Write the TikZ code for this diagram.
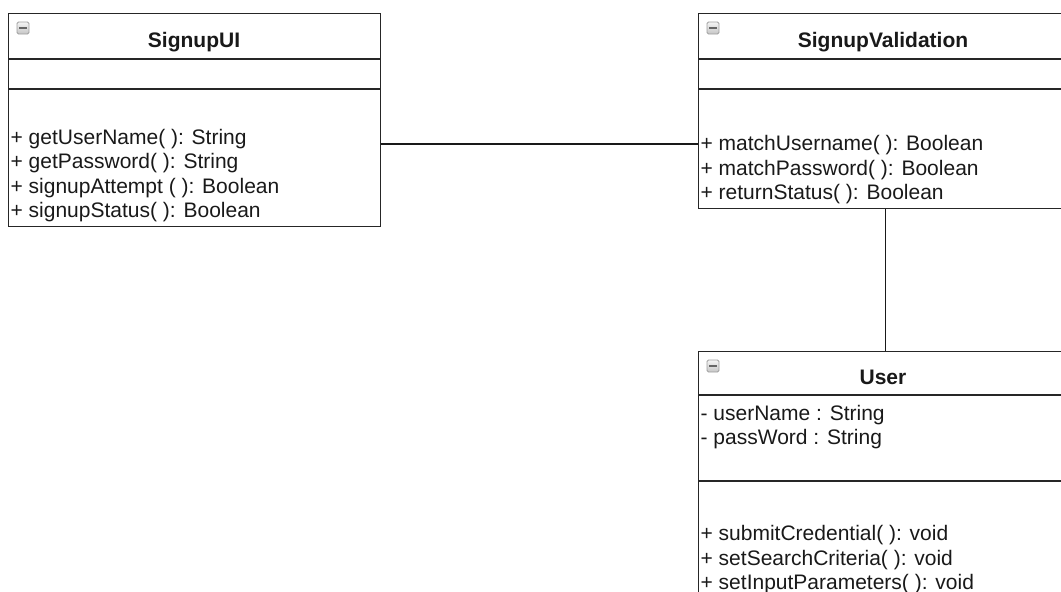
\documentclass[tikz,border=0pt]{standalone}
\usepackage{fontspec}
\setmainfont{Liberation Sans}
\begin{document}
\begin{tikzpicture}[x=1pt,y=-1pt,
  line width=1.3pt,
  classbox/.style={draw=black!85, line width=1.3pt, inner sep=0pt, anchor=north west},
  member/.style={anchor=base west, inner sep=0pt, font=\fontsize{21}{24.5}\selectfont, text=black!90},
  title/.style={anchor=base, inner sep=0pt, font=\fontsize{21}{24.5}\selectfont\bfseries, text=black!90},
  divider/.style={draw=black!85, line width=1.3pt},
  link/.style={draw=black!90, line width=1.3pt},
  minusicon/.pic={
    \draw[rounded corners=1.5pt, draw=gray!75, top color=gray!8, bottom color=gray!45, line width=0.8pt] (-6,-6) rectangle (6,6);
    \draw[line width=2.4pt, black!60] (-3.6,0) -- (3.6,0);
  }]
\useasboundingbox (0,0) rectangle (1061,592);
\clip (0,0) rectangle (1061,592);

% SignupUI
\node[classbox, minimum width=372pt, minimum height=213pt] (ui) at (8,13) {};
\draw[divider] (ui.west |- 0,59) -- (ui.east |- 0,59);
\draw[divider] (ui.west |- 0,89) -- (ui.east |- 0,89);
\pic at (23,28) {minusicon};
\node[title] (uititle) at (194,47) {SignupUI};
\node[member] (ui1) at (10,144) {+ getUserName( ): String};
\node[member] (ui2) at (10,168.5) {+ getPassword( ): String};
\node[member] (ui3) at (10,193) {+ signupAttempt ( ): Boolean};
\node[member] (ui4) at (10,217.5) {+ signupStatus( ): Boolean};

% SignupValidation
\node[classbox, minimum width=373pt, minimum height=195pt] (val) at (698,13) {};
\draw[divider] (val.west |- 0,59) -- (val.east |- 0,59);
\draw[divider] (val.west |- 0,89) -- (val.east |- 0,89);
\pic at (713,28) {minusicon};
\node[title] (valtitle) at (883,47) {SignupValidation};
\node[member] (val1) at (700,150.5) {+ matchUsername( ): Boolean};
\node[member] (val2) at (700,175) {+ matchPassword( ): Boolean};
\node[member] (val3) at (700,199.5) {+ returnStatus( ): Boolean};

% User
\node[classbox, minimum width=373pt, minimum height=280pt] (user) at (698,351) {};
\draw[divider] (user.west |- 0,395) -- (user.east |- 0,395);
\draw[divider] (user.west |- 0,481) -- (user.east |- 0,481);
\pic at (713,366) {minusicon};
\node[title] (usertitle) at (883,384) {User};
\node[member] (ua1) at (700,420) {- userName : String};
\node[member] (ua2) at (700,444) {- passWord : String};
\node[member] (um1) at (700,540.5) {+ submitCredential( ): void};
\node[member] (um2) at (700,565) {+ setSearchCriteria( ): void};
\node[member] (um3) at (700,589.5) {+ setInputParameters( ): void};

% connectors
\coordinate (hy) at (0,144);
\draw[link] (ui.east |- hy) -- (val.west |- hy);
\draw[link] (val.south) -- (user.north);
\end{tikzpicture}
\end{document}
